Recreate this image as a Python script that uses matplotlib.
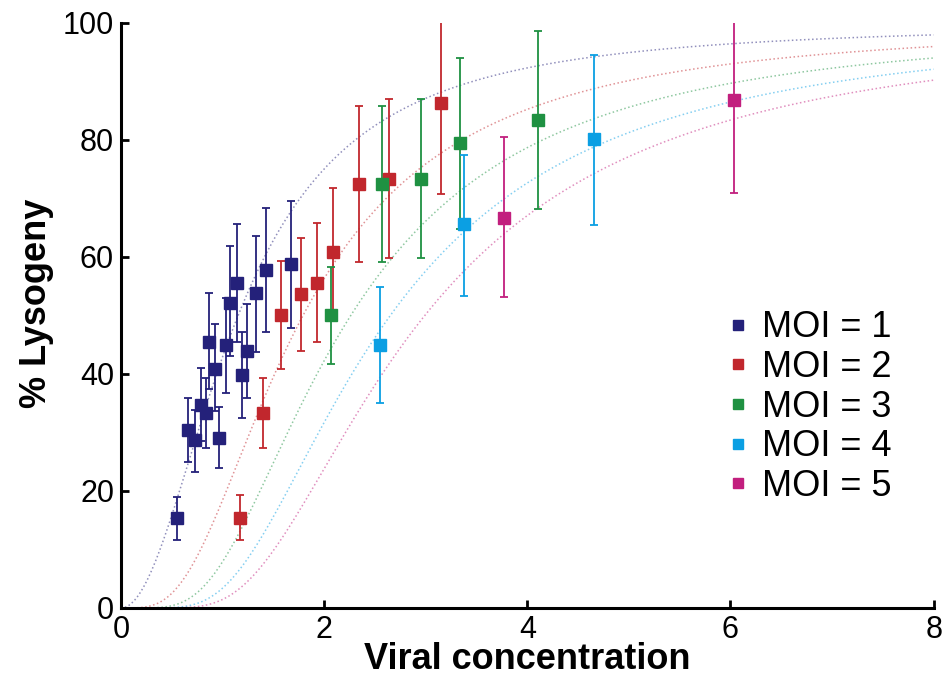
import numpy as np
import matplotlib
matplotlib.use('Agg')
from matplotlib import pyplot as plt
from matplotlib.lines import Line2D

plt.rcParams['font.family'] = ['Liberation Sans', 'DejaVu Sans']

moi_labels = ['MOI = 1', 'MOI = 2', 'MOI = 3', 'MOI = 4', 'MOI = 5']
moi_values = [1, 2, 3, 4, 5]
colors = ['#24217a', '#c1272d', '#1f9142', '#0b9fe3', '#c21f7e']

# MOI = 1
moi1_x = [0.55, 0.66, 0.73, 0.79, 0.84, 0.87, 0.93, 0.97, 1.03, 1.07, 1.14, 1.19, 1.24, 1.33, 1.43, 1.67]
moi1_y = [15.3, 30.4, 28.7, 34.7, 33.4, 45.4, 40.9, 29.1, 45.0, 52.2, 55.6, 39.9, 43.9, 53.9, 57.8, 58.8]
moi1_top = [19.0, 35.9, 33.8, 41.1, 39.3, 53.8, 48.5, 34.4, 53.0, 61.8, 65.7, 47.2, 52.0, 63.6, 68.3, 69.5]
moi1_bot = [11.6, 24.9, 23.3, 28.5, 27.3, 37.5, 33.6, 23.9, 36.8, 43.0, 45.5, 32.4, 35.9, 43.8, 47.2, 47.9]

# MOI = 2
moi2_x = [1.17, 1.40, 1.575, 1.77, 1.93, 2.09, 2.34, 2.64, 3.15]
moi2_y = [15.3, 33.3, 50.1, 53.6, 55.6, 60.8, 72.5, 73.4, 86.4]
moi2_top = [19.3, 39.3, 59.3, 63.3, 65.8, 71.8, 85.8, 87.0, 100.2]
moi2_bot = [11.6, 27.3, 40.8, 43.9, 45.4, 49.8, 59.2, 59.9, 70.7]

# MOI = 3
moi3_x = [2.07, 2.57, 2.95, 3.34, 4.11]
moi3_y = [50.1, 72.5, 73.4, 79.4, 83.4]
moi3_top = [58.3, 85.8, 87.0, 94.0, 98.6]
moi3_bot = [41.7, 59.2, 59.9, 64.8, 68.2]

# MOI = 4
moi4_x = [2.55, 3.38, 4.66]
moi4_y = [45.0, 65.6, 80.2]
moi4_top = [54.9, 77.4, 94.6]
moi4_bot = [35.0, 53.4, 65.4]

# MOI = 5
moi5_x = [3.77, 6.03]
moi5_y = [66.6, 86.8]
moi5_top = [80.5, 100.2]
moi5_bot = [53.1, 70.9]

xs = [moi1_x, moi2_x, moi3_x, moi4_x, moi5_x]
ys = [moi1_y, moi2_y, moi3_y, moi4_y, moi5_y]
tops = [moi1_top, moi2_top, moi3_top, moi4_top, moi5_top]
bots = [moi1_bot, moi2_bot, moi3_bot, moi4_bot, moi5_bot]

# fitted model: single-phage Hill curve, raised to the power MOI
hill_k2 = 1.33
hill_n = 2

fig = plt.figure(figsize=(9.45, 6.76), dpi=100)
ax = fig.add_axes([0.128, 0.1006, 0.86, 0.8654])

xc = np.linspace(0, 8, 400)
for m, c in zip(moi_values, colors):
    p = xc**hill_n / (xc**hill_n + hill_k2)
    ax.plot(xc, 100 * p**m, linestyle=':', color=c, alpha=0.5, linewidth=1.1, zorder=1)

for x, y, t, b, c in zip(xs, ys, tops, bots, colors):
    y = np.array(y)
    yerr = [y - np.array(b), np.array(t) - y]
    ax.errorbar(x, y, yerr=yerr, fmt='s', color=c, ecolor=c, markersize=9,
                elinewidth=1.3, capsize=3, capthick=1.3, zorder=3)

ax.set_xlim(0, 8)
ax.set_ylim(0, 100)
ax.set_xticks([0, 2, 4, 6, 8])
ax.set_yticks([0, 20, 40, 60, 80, 100])
ax.spines['top'].set_visible(False)
ax.spines['right'].set_visible(False)
for s in ['left', 'bottom']:
    ax.spines[s].set_linewidth(2.2)
ax.tick_params(direction='in', length=6, width=2, labelsize=22, pad=5)
ax.set_xlabel('Viral concentration', fontsize=26, fontweight='bold', labelpad=-2)
ax.set_ylabel('% Lysogeny', fontsize=26, fontweight='bold')
ax.yaxis.set_label_coords(-0.082, 0.52)

handles = [Line2D([], [], marker='s', linestyle='none', color=c, markersize=7) for c in colors]
ax.legend(handles, moi_labels, loc='upper left', bbox_to_anchor=(0.724, 0.54),
          frameon=False, fontsize=26, handlelength=0.6, handletextpad=0.35,
          labelspacing=0.13, borderpad=0)

plt.savefig('out.png', dpi=100)
plt.close()
